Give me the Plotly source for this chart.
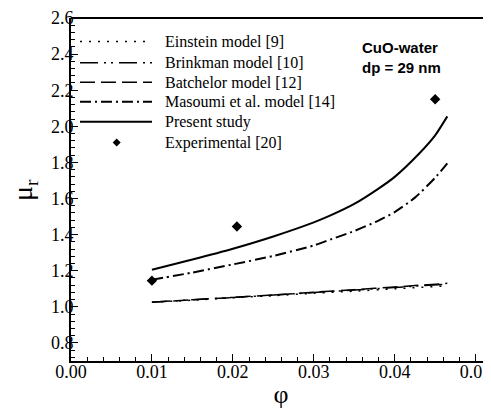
import plotly.graph_objects as go

# ---------------- data ----------------
phi_models = [0.010, 0.015, 0.020, 0.025, 0.030, 0.035, 0.040, 0.0465]
einstein = [1.025, 1.037, 1.050, 1.062, 1.075, 1.087, 1.100, 1.116]
brinkman = [1.026, 1.039, 1.052, 1.065, 1.079, 1.093, 1.107, 1.126]
batchelor = [1.026, 1.039, 1.052, 1.066, 1.081, 1.095, 1.110, 1.130]

phi_masoumi = [0.010, 0.015, 0.020, 0.025, 0.030, 0.032, 0.035, 0.038, 0.040, 0.0425, 0.045, 0.0465]
masoumi = [1.150, 1.190, 1.235, 1.282, 1.340, 1.372, 1.420, 1.478, 1.525, 1.605, 1.715, 1.795]

phi_present = [0.010, 0.015, 0.020, 0.025, 0.030, 0.032, 0.035, 0.038, 0.040, 0.043, 0.045, 0.0465]
present = [1.205, 1.262, 1.322, 1.390, 1.468, 1.505, 1.570, 1.655, 1.720, 1.848, 1.950, 2.055]

phi_exp = [0.010, 0.0205, 0.045]
mu_exp = [1.145, 1.445, 2.150]

legend_labels = ["Einstein model [9]", "Brinkman model [10]", "Batchelor model [12]",
                 "Masoumi et al. model [14]", "Present study", "Experimental [20]"]

# ---------------- styles ----------------
SERIF = "Times New Roman, Liberation Serif, DejaVu Serif, serif"
SANS = "Arial, Liberation Sans, sans-serif"
dash_einstein = "2px,7px"
dash_brinkman = "18px,6px,2px,5px,2px,6px"
dash_batchelor = "15px,6px"
dash_masoumi = "11px,4px,2px,4px"

fig = go.Figure()
line_specs = [
    (phi_models, einstein, dash_einstein, 1.5),
    (phi_models, brinkman, dash_brinkman, 1.5),
    (phi_models, batchelor, dash_batchelor, 1.5),
    (phi_masoumi, masoumi, dash_masoumi, 2),
    (phi_present, present, "solid", 2),
]
for (xs, ys, dash, w), name in zip(line_specs, legend_labels[:5]):
    fig.add_trace(go.Scatter(x=xs, y=ys, mode="lines", name=name,
                             line=dict(color="black", width=w, dash=dash,
                                       shape="spline", smoothing=0.6),
                             showlegend=False))
fig.add_trace(go.Scatter(x=phi_exp, y=mu_exp, mode="markers", name=legend_labels[5],
                         marker=dict(symbol="diamond", size=8, color="black"),
                         showlegend=False))

# ---------------- layout geometry (page pixels) ----------------
OFF = 8                      # default body margin of the html page
L, T, PW, PH = 71, 14, 420, 347
W, H = 491 - OFF, 410 - OFF

def px(x):
    return (x - L) / PW
def py(y):
    return (T + PH - y) / PH

rows_y = [37.7, 59.3, 79.0, 98.7, 119.0, 140.0]
dashes = [dash_einstein, dash_brinkman, dash_batchelor, dash_masoumi, "solid"]
shapes = [dict(type="line", xref="paper", yref="paper", x0=0, x1=1, y0=1, y1=1,
               line=dict(color="black", width=2))]
annotations = []
for i, lab in enumerate(legend_labels):
    yy = py(rows_y[i])
    if i < 5:
        shapes.append(dict(type="line", xref="paper", yref="paper",
                           x0=px(80), x1=px(152), y0=yy, y1=yy,
                           line=dict(color="black", width=2 if i >= 3 else 1.5, dash=dashes[i])))
    else:
        cx, cy = px(116.7), yy
        dx, dy = 4 / PW, 4 / PH
        shapes.append(dict(type="path", xref="paper", yref="paper",
                           path=f"M {cx-dx},{cy} L {cx},{cy+dy} L {cx+dx},{cy} L {cx},{cy-dy} Z",
                           fillcolor="black", line=dict(color="black", width=0)))
    annotations.append(dict(text=lab, xref="paper", yref="paper", x=px(163), y=yy,
                            xanchor="left", yanchor="middle", showarrow=False,
                            font=dict(family=SERIF, size=16, color="black")))

annotations.append(dict(text="<b>CuO-water<br>dp = 29 nm</b>", xref="paper", yref="paper",
                        x=px(360), y=py(33), xanchor="left", yanchor="top", align="left",
                        showarrow=False,
                        font=dict(family=SANS, size=15, color="black")))

# y-axis title (placed as an annotation so it can sit close to the page edge)
annotations.append(dict(text="μ<sub>r</sub>", xref="paper", yref="paper",
                        x=px(25), y=py(188), xanchor="center", yanchor="middle",
                        textangle=-90, showarrow=False,
                        font=dict(family=SERIF, size=28, color="black")))

fig.update_layout(
    width=W, height=H,
    margin=dict(l=L - OFF, r=W - (L - OFF) - PW, t=T - OFF, b=H - (T - OFF) - PH, pad=0),
    paper_bgcolor="white", plot_bgcolor="white",
    shapes=shapes, annotations=annotations,
    font=dict(family=SERIF, color="black"),
)
fig.update_xaxes(
    range=[0, 0.0519], dtick=0.01, tick0=0, tickformat=".2f",
    showgrid=False, zeroline=False,
    showline=True, linecolor="black", linewidth=2, mirror=False,
    ticks="inside", ticklen=7, tickwidth=1.2, tickcolor="black",
    minor=dict(dtick=0.002, ticks="inside", ticklen=4, tickwidth=1, tickcolor="black", showgrid=False),
    tickfont=dict(family=SERIF, size=18, color="black"),
    ticklabelstandoff=-7, ticklabeloverflow="allow",
    title=dict(text="φ", font=dict(family=SERIF, size=26, color="black"), standoff=4),
)
fig.update_yaxes(
    range=[0.7, 2.6], dtick=0.2, tick0=0, tickformat=".1f",
    showgrid=False, zeroline=False,
    showline=True, linecolor="black", linewidth=2, mirror=False,
    ticks="inside", ticklen=7, tickwidth=1.2, tickcolor="black",
    minor=dict(dtick=0.04, ticks="inside", ticklen=4, tickwidth=1, tickcolor="black", showgrid=False),
    tickfont=dict(family=SERIF, size=18, color="black"),
    ticklabelstandoff=-8, ticklabeloverflow="allow",
)

fig.write_html("out.html")
